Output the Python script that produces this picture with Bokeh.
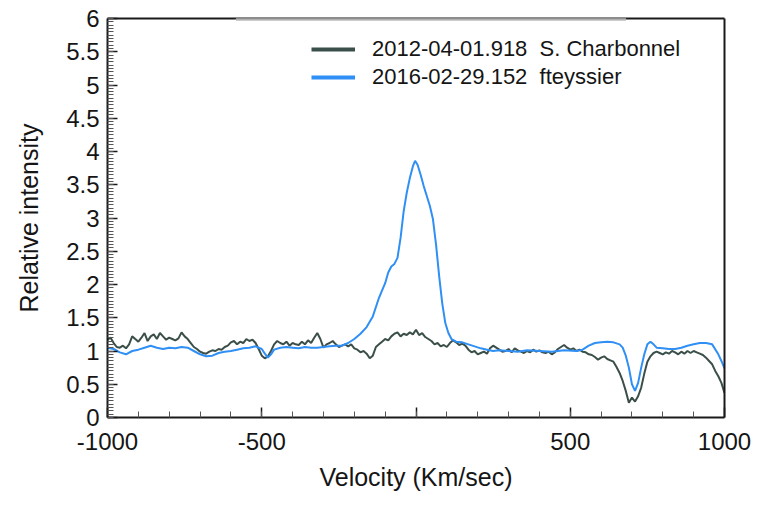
from bokeh.plotting import figure
from bokeh.models import (LinearAxis, SingleIntervalTicker, FixedTicker, Legend,
                          LegendItem, BoxAnnotation, ColumnDataSource)
from bokeh.embed import file_html
from bokeh.resources import INLINE

# ---- data ----
vel_2012 = list(range(-1000, 1001, 10))
int_2012 = [
    1.17, 1.20, 1.12, 1.06, 1.05, 1.08, 1.04, 1.10, 1.22, 1.18,
    1.14, 1.20, 1.27, 1.15, 1.22, 1.25, 1.18, 1.27, 1.22, 1.17,
    1.20, 1.18, 1.16, 1.19, 1.28, 1.22, 1.18, 1.12, 1.06, 1.03,
    0.99, 0.97, 0.96, 0.99, 1.01, 1.00, 1.03, 1.02, 1.06, 1.08,
    1.13, 1.15, 1.10, 1.14, 1.12, 1.18, 1.15, 1.17, 1.12, 1.03,
    0.93, 0.89, 0.92, 1.00, 1.10, 1.15, 1.12, 1.10, 1.14, 1.08,
    1.12, 1.10, 1.09, 1.14, 1.10, 1.16, 1.12, 1.20, 1.27, 1.18,
    1.05, 1.10, 1.12, 1.15, 1.10, 1.06, 1.08, 1.10, 1.07, 1.10,
    1.04, 1.02, 0.98, 1.00, 0.96, 0.89, 0.93, 1.06, 1.10, 1.14,
    1.18, 1.16, 1.22, 1.26, 1.28, 1.22, 1.26, 1.24, 1.28, 1.25,
    1.32, 1.24, 1.27, 1.21, 1.18, 1.15, 1.10, 1.12, 1.07, 1.09,
    1.06, 1.12, 1.16, 1.13, 1.09, 1.11, 1.08, 1.02, 0.98, 1.00,
    0.95, 0.97, 0.99, 0.96, 1.04, 1.08, 1.05, 1.02, 0.99, 1.00,
    1.03, 0.98, 1.04, 1.01, 0.99, 0.97, 1.00, 0.98, 1.02, 0.99,
    1.01, 0.98, 0.97, 0.99, 0.95, 0.98, 1.03, 1.06, 1.09, 1.05,
    1.02, 1.04, 1.00, 1.02, 0.99, 0.98, 0.95, 0.94, 0.91, 0.87,
    0.90, 0.92, 0.88, 0.86, 0.84, 0.76, 0.67, 0.55, 0.40, 0.22,
    0.30, 0.24, 0.32, 0.45, 0.66, 0.84, 0.92, 0.97, 0.99, 0.97,
    0.95, 0.98, 0.96, 1.00, 0.98, 0.95, 0.99, 0.96, 1.00, 0.97,
    1.00, 0.98, 0.96, 0.94, 0.90, 0.85, 0.80, 0.70, 0.62, 0.52,
    0.37,
]

vel_2016 = [
    -1000, -980, -960, -940, -920, -900, -880, -860, -840, -820,
    -800, -780, -760, -740, -720, -700, -680, -660, -640, -620,
    -600, -580, -560, -540, -520, -500, -490, -480, -470, -460,
    -440, -420, -400, -380, -360, -340, -320, -300, -280, -260,
    -240, -220, -200, -180, -160, -140, -120, -100, -90, -80,
    -70, -60, -50, -40, -30, -20, -10, -3, 5, 15,
    25, 35, 45, 55, 65, 75, 85, 95, 105, 115,
    130, 150, 170, 190, 210, 230, 250, 270, 300, 330,
    360, 400, 440, 480, 520, 540, 560, 580, 600, 620,
    640, 660, 670, 680, 690, 700, 710, 720, 730, 740,
    750, 760, 770, 780, 800, 820, 840, 860, 880, 900,
    920, 940, 960, 980, 990, 1000,
]
int_2016 = [
    1.05, 1.03, 0.98, 0.95, 1.00, 1.02, 1.05, 1.08, 1.05, 1.03,
    1.05, 1.04, 1.06, 1.05, 1.00, 0.95, 0.92, 0.93, 0.97, 0.99,
    1.00, 1.02, 1.04, 1.05, 1.07, 1.03, 0.96, 0.90, 0.95, 1.02,
    1.05, 1.06, 1.05, 1.04, 1.06, 1.05, 1.05, 1.06, 1.07, 1.08,
    1.08, 1.12, 1.18, 1.26, 1.36, 1.52, 1.80, 2.02, 2.18, 2.27,
    2.31, 2.40, 2.70, 3.10, 3.38, 3.60, 3.78, 3.86, 3.80, 3.65,
    3.48, 3.33, 3.18, 2.98, 2.60, 2.13, 1.72, 1.42, 1.27, 1.18,
    1.14, 1.13, 1.10, 1.07, 1.04, 1.02, 1.00, 1.01, 1.00, 0.99,
    1.01, 1.00, 0.99, 1.01, 1.00, 1.02, 1.08, 1.12, 1.13, 1.14,
    1.13, 1.10, 1.05, 0.93, 0.75, 0.50, 0.40, 0.52, 0.75, 0.95,
    1.10, 1.14, 1.10, 1.05, 1.04, 1.03, 1.03, 1.05, 1.08, 1.10,
    1.12, 1.12, 1.10, 0.95, 0.85, 0.74,
]

x_tick_labels = {-1000: "-1000", -500: "-500", 0: "", 500: "500", 1000: "1000"}
label_2012 = "2012-04-01.918  S. Charbonnel"
label_2016 = "2016-02-29.152  fteyssier"
x_title = "Velocity (Km/sec)"
y_title = "Relative intensity"

FONT = "Liberation Sans"
TXT = "#151515"
AX = "#1a1a1a"
C2012 = "#3b4f4a"
C2016 = "#2f8ff5"

p = figure(width=751, height=493, x_range=(-1000, 1000), y_range=(0, 6),
           output_backend="svg", toolbar_location=None,
           min_border_left=107, min_border_right=27,
           min_border_top=18, min_border_bottom=75,
           x_axis_location=None, y_axis_location=None)
p.outline_line_color = None
p.xgrid.visible = False
p.ygrid.visible = False
p.background_fill_color = "white"
p.border_fill_color = "white"

xaxis = LinearAxis(ticker=SingleIntervalTicker(interval=500, num_minor_ticks=5),
                   axis_label=x_title)
yaxis = LinearAxis(ticker=SingleIntervalTicker(interval=0.5, num_minor_ticks=10),
                   axis_label=y_title)
xaxis.major_label_overrides = x_tick_labels
for ax in (xaxis, yaxis):
    ax.axis_line_color = AX
    ax.axis_line_width = 2
    ax.major_tick_in = 10
    ax.major_tick_out = 0
    ax.minor_tick_in = 6
    ax.minor_tick_out = 0
    ax.major_tick_line_color = AX
    ax.major_tick_line_width = 1.5
    ax.minor_tick_line_color = "#555555"
    ax.minor_tick_line_width = 1
    ax.major_label_text_font = FONT
    ax.major_label_text_font_size = "24px"
    ax.major_label_text_color = TXT
    ax.axis_label_text_font = FONT
    ax.axis_label_text_font_size = "25px"
    ax.axis_label_text_font_style = "normal"
    ax.axis_label_text_color = TXT
xaxis.major_label_standoff = 15
xaxis.axis_label_standoff = 10
yaxis.major_label_standoff = 8
yaxis.axis_label_standoff = 20
p.add_layout(xaxis, "below")
p.add_layout(yaxis, "left")

for loc in ("right", "above"):
    bax = LinearAxis(ticker=FixedTicker(ticks=[]))
    bax.axis_line_color = AX
    bax.axis_line_width = 2
    bax.major_label_text_color = None
    bax.major_tick_line_color = None
    bax.minor_tick_line_color = None
    p.add_layout(bax, loc)

src12 = ColumnDataSource(dict(v=vel_2012, i=int_2012))
src16 = ColumnDataSource(dict(v=vel_2016, i=int_2016))
r12 = p.line("v", "i", source=src12, line_color=C2012, line_width=2)
r16 = p.line("v", "i", source=src16, line_color=C2016, line_width=2)

# thicker legend swatches: one-point lines (draw nothing in the plot)
k12 = p.line(vel_2012[:1], int_2012[:1], line_color=C2012, line_width=4)
k16 = p.line(vel_2016[:1], int_2016[:1], line_color=C2016, line_width=4)

# white legend box edge over the top frame line (as in the reference)
mask = BoxAnnotation(left=-584, right=681, top=6.2, bottom=5.986,
                     fill_color="white", fill_alpha=1, line_color=None,
                     level="overlay")
edge = BoxAnnotation(left=-584, right=681, top=5.986, bottom=5.97,
                     fill_color="#9a9a9a", fill_alpha=1, line_color=None,
                     level="overlay")
p.add_layout(mask)
p.add_layout(edge)

legend = Legend(items=[LegendItem(label=label_2012, renderers=[k12]),
                       LegendItem(label=label_2016, renderers=[k16])],
                location=(204, 327))
legend.label_text_font = FONT
legend.label_text_font_size = "22px"
legend.label_text_color = TXT
legend.glyph_width = 44
legend.glyph_height = 26
legend.label_height = 26
legend.label_standoff = 17
legend.spacing = 2
legend.padding = 0
legend.margin = 0
legend.border_line_color = None
legend.background_fill_alpha = 0
p.add_layout(legend, "center")

open("out.html", "w").write(file_html(p, INLINE))
